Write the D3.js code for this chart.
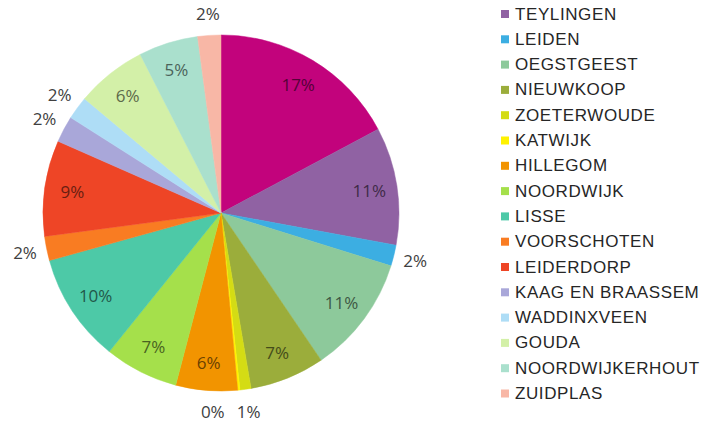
<!DOCTYPE html>
<html>
<head>
<meta charset="utf-8">
<script src="https://cdn.jsdelivr.net/npm/d3@7"></script>
<style>
  html, body { margin: 0; padding: 0; background: #ffffff; }
  svg { display: block; }
</style>
</head>
<body>
<svg id="chart" width="728" height="425"></svg>
<script>
// Data (first slice has no visible legend entry)
const categories = ["ALPHEN AAN DEN RIJN", "TEYLINGEN", "LEIDEN", "OEGSTGEEST", "NIEUWKOOP", "ZOETERWOUDE",
  "KATWIJK", "HILLEGOM", "NOORDWIJK", "LISSE", "VOORSCHOTEN", "LEIDERDORP",
  "KAAG EN BRAASSEM", "WADDINXVEEN", "GOUDA", "NOORDWIJKERHOUT", "ZUIDPLAS"];
const values = [17.2, 10.7, 1.9, 10.7, 6.8, 1.0, 0.2, 5.6, 6.7, 9.9, 2.2, 8.7, 2.4, 2.1, 6.4, 5.4, 2.1];
const colors = ["#C2037C", "#9062A3", "#3CAEE2", "#8DC99B", "#9BAD3B", "#D4DC14", "#FFF200",
  "#F29400", "#A5E04B", "#4DC9A7", "#F97C22", "#EE4526", "#A9A7D9", "#AEDDF6", "#D3F0A8", "#AAE0CD", "#F8B7A6"];
const legendShown = categories.slice(1);

const svg = d3.select("#chart");
const cx = 221, cy = 213, R = 178;
const total = d3.sum(values);
const data = categories.map((c, i) => ({ name: c, value: values[i], color: colors[i] }));

const pie = d3.pie().value(d => d.value).sort(null);
const arcs = pie(data);
const arc = d3.arc().innerRadius(0).outerRadius(R);
const inArc = d3.arc().innerRadius(150).outerRadius(150);
const outArc = d3.arc().innerRadius(200).outerRadius(200);

const g = svg.append("g").attr("transform", `translate(${cx},${cy})`);
g.selectAll("path.slice").data(arcs).enter().append("path")
  .attr("class", "slice")
  .attr("d", arc)
  .attr("fill", d => d.data.color)
  .attr("stroke", d => d.data.color)
  .attr("stroke-width", 0.5);

const labels = g.selectAll("text.lbl").data(arcs).enter().append("text")
  .attr("class", "lbl")
  .attr("text-anchor", "middle")
  .attr("dominant-baseline", "central")
  .attr("font-family", "'Open Sans', 'Liberation Sans', sans-serif")
  .attr("font-size", 17)
  .attr("fill", d => d.data.value < 3 ? "#404040" : d3.color(d.data.color).darker(2.3).formatHex())
  .text(d => Math.round(d.data.value / total * 100) + "%");

// position labels, resolving overlaps among outside labels
const pos = arcs.map(d => (d.data.value < 3 ? outArc : inArc).centroid(d));
const widths = [];
labels.each(function(d, i) { widths[i] = this.getComputedTextLength(); });
for (let i = 1; i < arcs.length; i++) {
  if (arcs[i].data.value >= 3 || arcs[i - 1].data.value >= 3) continue;
  const a = pos[i - 1], b = pos[i];
  const minDx = (widths[i - 1] + widths[i]) / 2 + 12;
  if (Math.abs(a[1] - b[1]) < 18 && Math.abs(a[0] - b[0]) < minDx) {
    const dir = b[0] <= a[0] ? -1 : 1;
    b[0] = a[0] + dir * minDx;
  }
}
labels.attr("transform", (d, i) => `translate(${pos[i][0]},${pos[i][1]})`);

// Legend
const legY0 = 14, legStep = 25.3;
const leg = svg.append("g");
legendShown.forEach((name, i) => {
  const d = data[i + 1];
  const y = legY0 + i * legStep;
  leg.append("rect").attr("x", 501).attr("y", y - 4).attr("width", 8).attr("height", 8).attr("fill", d.color);
  leg.append("text").attr("x", 515).attr("y", y)
    .attr("dominant-baseline", "central")
    .attr("font-family", "'Liberation Sans', Arial, sans-serif")
    .attr("font-size", 17)
    .attr("letter-spacing", 0.6)
    .attr("fill", "#262626")
    .text(name);
});
</script>
</body>
</html>
